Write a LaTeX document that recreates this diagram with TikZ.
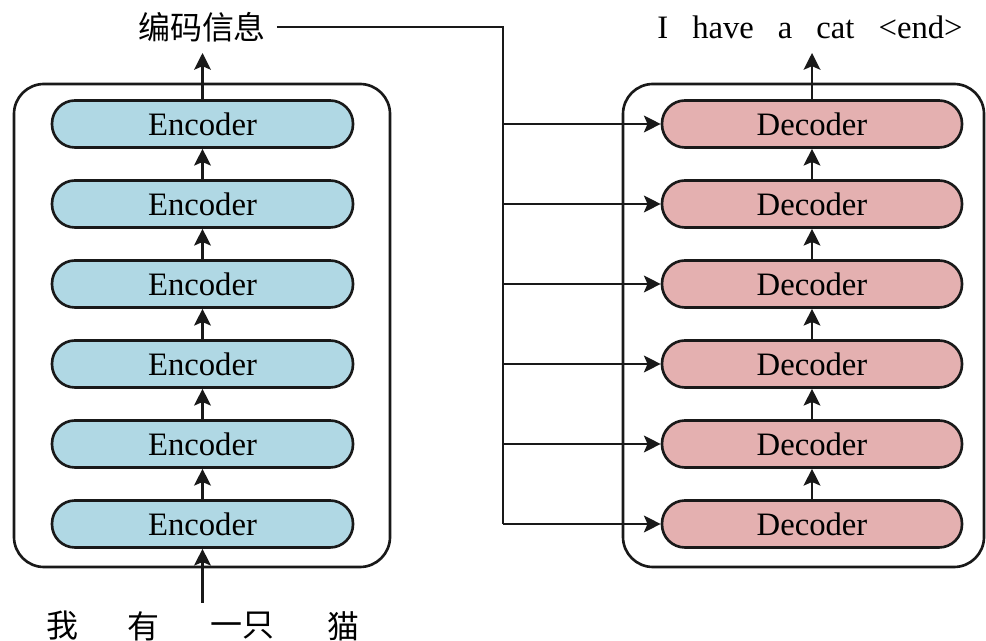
\documentclass[tikz,border=0pt]{standalone}
\usepackage{fontspec}
\setmainfont{Liberation Serif}
\newfontfamily\cjk{Noto Sans CJK SC}
\usepackage{tikz}
\usetikzlibrary{arrows.meta, positioning, calc}
\usepackage{xcolor}
\definecolor{encfill}{RGB}{176,216,228}
\definecolor{decfill}{RGB}{228,176,176}
\newcommand{\wgap}{\hspace{0.48cm}}

\begin{document}
\begin{tikzpicture}[
    font=\fontsize{18.6}{22}\selectfont,
    enc/.style = {rectangle, draw=black!90, fill=encfill, line width=1.5pt, rounded corners=0.46cm, minimum width=6.02cm, minimum height=0.94cm, inner sep=0pt},
    dec/.style = {enc, fill=decfill, minimum width=6.0cm},
    outer/.style = {draw=black!90, line width=1.5pt, rounded corners=0.6cm},
    word/.style = {font=\cjk\fontsize{18.2}{22}\selectfont, inner sep=2pt},
    line/.style = {draw=black!90, line width=1.5pt},
    arrow/.style = {line, -{Stealth[length=9.5pt,width=9.5pt,inset=2pt]}}
]
\useasboundingbox (0,0) rectangle (19.72,12.82);
\draw [outer] (0.28,1.48) rectangle (7.8,11.14);
\draw [outer] (12.46,1.48) rectangle (19.68,11.14);

\node (e1) [enc] at (4.05,2.34) {Encoder};
\node (e2) [enc] at (4.05,3.94) {Encoder};
\node (e3) [enc] at (4.05,5.54) {Encoder};
\node (e4) [enc] at (4.05,7.14) {Encoder};
\node (e5) [enc] at (4.05,8.74) {Encoder};
\node (e6) [enc] at (4.05,10.34) {Encoder};

\node (d1) [dec] at (16.24,2.34) {Decoder};
\node (d2) [dec] at (16.24,3.94) {Decoder};
\node (d3) [dec] at (16.24,5.54) {Decoder};
\node (d4) [dec] at (16.24,7.14) {Decoder};
\node (d5) [dec] at (16.24,8.74) {Decoder};
\node (d6) [dec] at (16.24,10.34) {Decoder};

\node (code) [word] at (4.04,12.28) {编码信息};
\node (out) at (16.2,12.28) {I\wgap have\wgap a\wgap cat\wgap <end>};
\node (w1) [word] at (1.24,0.3) {我};
\node (w2) [word] at (2.86,0.3) {有};
\node (w3) [word] at (4.84,0.3) {一只};
\node (w4) [word] at (6.86,0.3) {猫};

\coordinate (in) at (4.05,0.76);
\coordinate (enctop) at (4.05,11.76);
\coordinate (dectop) at (16.24,11.76);
\coordinate (bus) at (10.06,2.34);

\draw [arrow] (in) -- (e1);
\draw [arrow] (e1) -- (e2);
\draw [arrow] (e2) -- (e3);
\draw [arrow] (e3) -- (e4);
\draw [arrow] (e4) -- (e5);
\draw [arrow] (e5) -- (e6);
\draw [arrow] (e6) -- (enctop);

\draw [arrow] (d1) -- (d2);
\draw [arrow] (d2) -- (d3);
\draw [arrow] (d3) -- (d4);
\draw [arrow] (d4) -- (d5);
\draw [arrow] (d5) -- (d6);
\draw [arrow] (d6) -- (dectop);

\draw [line] ([xshift=4pt]code.east) -| (bus);
\draw [arrow] (bus |- d1) -- (d1);
\draw [arrow] (bus |- d2) -- (d2);
\draw [arrow] (bus |- d3) -- (d3);
\draw [arrow] (bus |- d4) -- (d4);
\draw [arrow] (bus |- d5) -- (d5);
\draw [arrow] (bus |- d6) -- (d6);
\end{tikzpicture}
\end{document}
